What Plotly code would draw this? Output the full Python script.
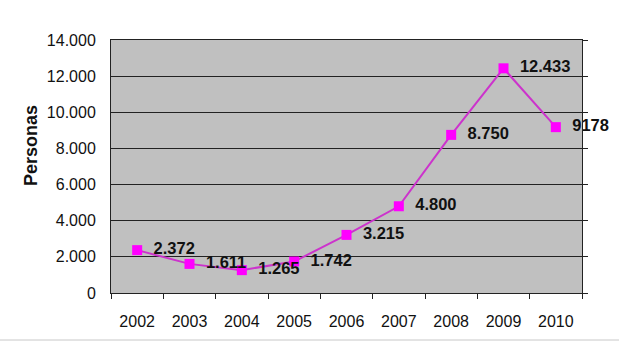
import plotly.graph_objects as go

years = ["2002", "2003", "2004", "2005", "2006", "2007", "2008", "2009", "2010"]
personas = [2372, 1611, 1265, 1742, 3215, 4800, 8750, 12433, 9178]
value_labels = ["2.372", "1.611", "1.265", "1.742", "3.215", "4.800", "8.750", "12.433", "9178"]
y_ticks = [0, 2000, 4000, 6000, 8000, 10000, 12000, 14000]
y_tick_text = ["0", "2.000", "4.000", "6.000", "8.000", "10.000", "12.000", "14.000"]

PLOT_W, PLOT_H = 471, 253  # plotting area in pixels

fig = go.Figure()
fig.add_trace(go.Scatter(
    x=years, y=personas,
    mode="lines+markers+text",
    line=dict(color="#CC33CC", width=2),
    marker=dict(symbol="square", size=10, color="#FF00FF"),
    text=["  " + t for t in value_labels],
    textposition="middle right",
    textfont=dict(family="Liberation Sans, Arial", size=16.5, color="#111111", weight="bold"),
    cliponaxis=False,
    showlegend=False,
))
# Invisible trace to carry the right-hand tick marks
fig.add_trace(go.Scatter(x=years, y=personas, yaxis="y2", mode="none",
                         showlegend=False, hoverinfo="skip"))

fig.update_layout(
    width=619, height=343,
    margin=dict(l=111, r=37, t=40, b=50),
    paper_bgcolor="white",
    plot_bgcolor="#C0C0C0",
    font=dict(family="Liberation Sans, Arial", color="#111111"),
    xaxis=dict(
        type="category",
        tickfont=dict(size=16),
        showgrid=False,
        showline=True, linecolor="#222222", linewidth=1,
        mirror=True,
        ticks="outside", ticklen=5, tickcolor="#222222",
        tickson="boundaries",
        ticklabelstandoff=14,
        range=[-0.5, 8.5],
    ),
    yaxis=dict(
        range=[0, 14000],
        tickvals=y_ticks, ticktext=y_tick_text,
        tickfont=dict(size=16),
        showgrid=True, gridcolor="#222222", gridwidth=1,
        showline=True, linecolor="#222222", linewidth=1,
        mirror=True,
        zeroline=False,
        ticks="",
        ticklabelstandoff=11,
    ),
    yaxis2=dict(
        range=[0, 14000], overlaying="y", side="right",
        tickvals=y_ticks, showticklabels=False,
        ticks="outside", ticklen=5, tickcolor="#222222",
        showgrid=False, zeroline=False,
    ),
    annotations=[dict(
        text="<b>Personas</b>", textangle=-90, showarrow=False,
        xref="paper", yref="paper",
        x=(31 - 111) / PLOT_W, y=(293 - 146) / PLOT_H,
        xanchor="center", yanchor="middle",
        font=dict(size=18, color="#111111"),
    )],
    shapes=[dict(type="line", xref="paper", yref="paper",
                 x0=-111 / PLOT_W, x1=1 + 37 / PLOT_W, y0=-47 / PLOT_H, y1=-47 / PLOT_H,
                 line=dict(color="#C8C8C8", width=1))],
)

fig.write_html("out.html")
